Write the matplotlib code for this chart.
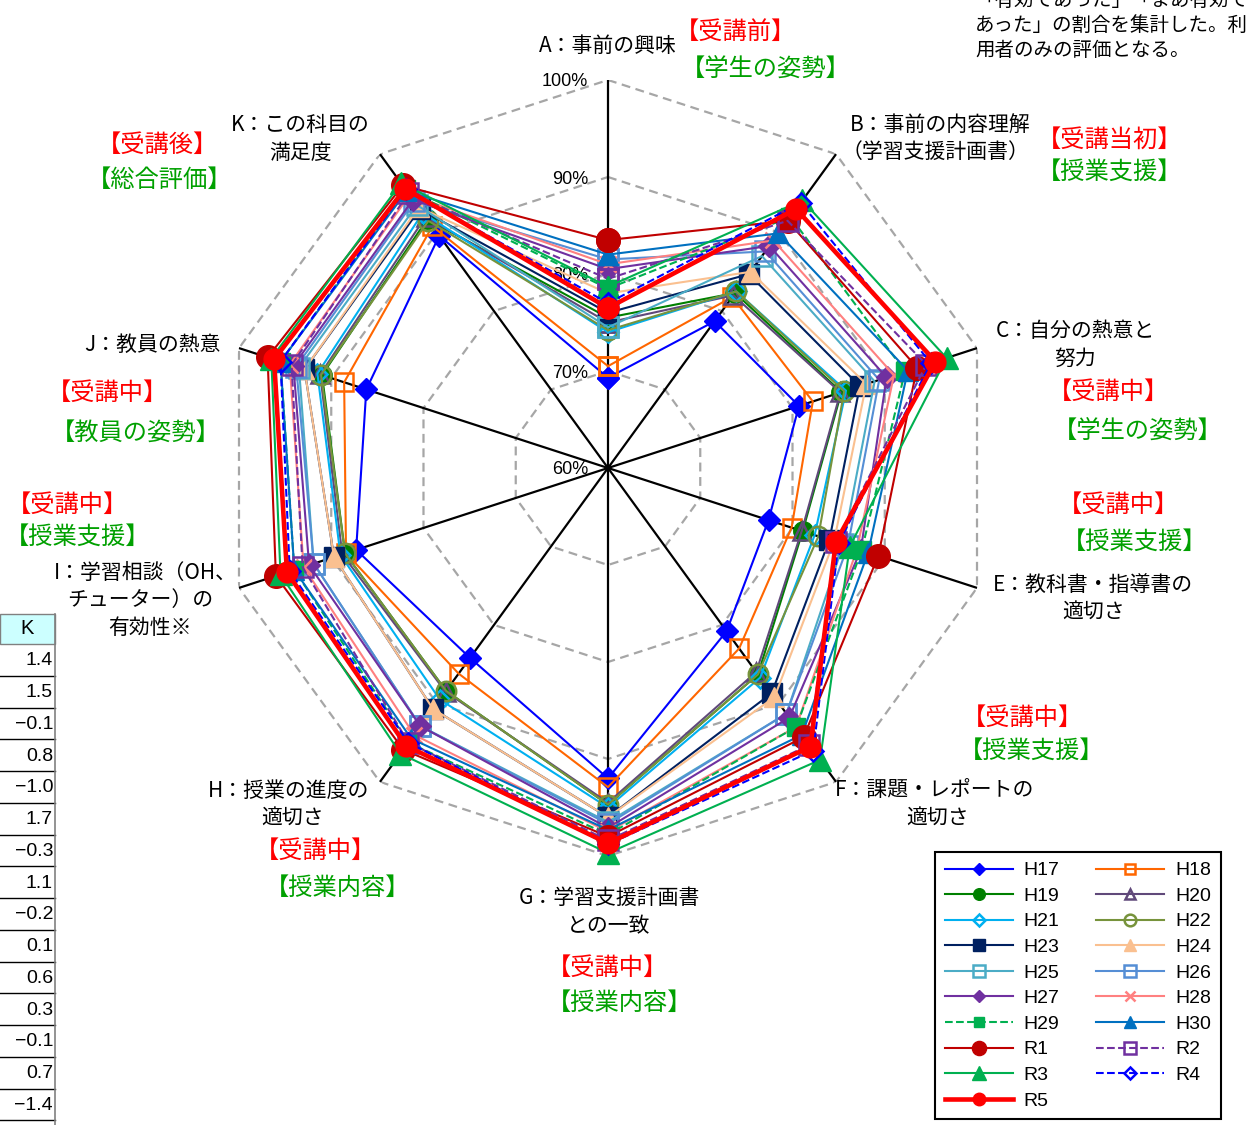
import numpy as np
import matplotlib.pyplot as plt
import matplotlib.transforms as mtransforms
from matplotlib.patches import Rectangle
from matplotlib.lines import Line2D

plt.rcParams['font.family'] = ['Noto Sans CJK JP', 'DejaVu Sans']

W, H = 1248, 1125

# radar axes (D is not used in this survey)
axis_ids = ['A', 'B', 'C', 'E', 'F', 'G', 'H', 'I', 'J', 'K']
axis_deg = [0, 36, 72, 108, 144, 180, 216, 252, 288, 324]

# share of "effective" + "somewhat effective" (%), per axis A..K
h17 = [69.3, 78.7, 80.7, 77.4, 80.8, 92.0, 84.2, 87.3, 86.2, 89.6]
h18 = [70.5, 81.8, 82.2, 79.9, 83.0, 92.9, 86.2, 88.4, 88.6, 90.8]
h19 = [75.5, 82.3, 85.3, 81.1, 86.3, 94.7, 88.4, 88.5, 91.0, 91.7]
h20 = [75.0, 82.0, 85.2, 81.0, 86.0, 94.5, 88.5, 88.8, 91.2, 92.0]
h21 = [74.0, 82.5, 85.8, 82.4, 86.7, 95.0, 89.5, 89.0, 91.5, 92.5]
h22 = [74.2, 82.5, 85.6, 82.8, 86.3, 94.7, 88.4, 88.5, 91.1, 91.5]
h23 = [76.0, 84.7, 87.3, 84.0, 88.7, 96.0, 90.7, 89.7, 92.9, 93.0]
h24 = [78.0, 85.0, 88.0, 84.5, 89.2, 96.0, 90.7, 89.7, 92.9, 93.2]
h25 = [74.5, 87.0, 88.9, 85.5, 91.3, 96.5, 92.9, 91.9, 93.5, 93.5]
h26 = [81.5, 87.6, 89.4, 86.0, 91.3, 96.7, 92.9, 91.9, 93.8, 94.0]
h27 = [80.5, 88.3, 90.2, 87.4, 91.8, 97.1, 92.9, 92.4, 94.1, 94.2]
h28 = [81.0, 89.0, 91.0, 87.0, 93.0, 97.5, 94.0, 93.0, 94.5, 94.8]
h29 = [78.5, 92.0, 92.2, 87.5, 93.0, 97.8, 95.0, 94.0, 95.5, 95.5]
h30 = [82.0, 89.9, 92.5, 88.2, 94.0, 97.3, 94.5, 94.0, 95.5, 95.3]
r1 = [83.5, 91.5, 93.5, 89.3, 94.3, 98.0, 95.9, 96.0, 96.9, 96.0]
r2 = [79.5, 91.5, 94.5, 84.7, 95.3, 98.4, 95.0, 93.1, 94.3, 95.0]
r3 = [78.7, 94.1, 96.7, 86.2, 97.2, 99.7, 96.4, 95.5, 96.5, 96.3]
r4 = [77.0, 93.8, 95.0, 85.0, 96.0, 98.8, 95.0, 94.5, 95.5, 95.5]
r5 = [76.5, 93.0, 95.5, 84.7, 95.5, 98.7, 95.4, 94.8, 96.2, 95.6]

years = ['H17', 'H18', 'H19', 'H20', 'H21', 'H22', 'H23', 'H24', 'H25', 'H26',
         'H27', 'H28', 'H29', 'H30', 'R1', 'R2', 'R3', 'R4', 'R5']
values = [h17, h18, h19, h20, h21, h22, h23, h24, h25, h26,
          h27, h28, h29, h30, r1, r2, r3, r4, r5]

# colour, marker, filled, linestyle, linewidth, markersize
styles = {
    'H17': ('#0000FF', 'D', True, '-', 1.5, 11),
    'H18': ('#FF6600', 's', False, '-', 1.5, 13),
    'H19': ('#008000', 'o', True, '-', 1.5, 14),
    'H20': ('#60497A', '^', False, '-', 1.5, 13),
    'H21': ('#00B0F0', 'D', False, '-', 1.5, 10),
    'H22': ('#77933C', 'o', False, '-', 1.5, 14),
    'H23': ('#002060', 's', True, '-', 1.5, 15),
    'H24': ('#FAC090', '^', True, '-', 1.5, 15),
    'H25': ('#4BACC6', 's', False, '-', 1.5, 14),
    'H26': ('#558ED5', 's', False, '-', 1.5, 14),
    'H27': ('#7030A0', 'D', True, '-', 1.5, 11),
    'H28': ('#FF8080', 'x', False, '-', 1.5, 12),
    'H29': ('#00B050', 's', True, '--', 1.5, 13),
    'H30': ('#0070C0', '^', True, '-', 1.5, 15),
    'R1': ('#C00000', 'o', True, '-', 1.5, 17),
    'R2': ('#7030A0', 's', False, '--', 1.5, 14),
    'R3': ('#00B050', '^', True, '-', 1.5, 16),
    'R4': ('#0000FF', 'D', False, '--', 1.5, 10),
    'R5': ('#FF0000', 'o', True, '-', 3.3, 15),
}

table_vals = ['1.4', '1.5', '−0.1', '0.8', '−1.0', '1.7', '−0.3', '1.1',
              '−0.2', '0.1', '0.6', '0.3', '−0.1', '0.7', '−1.4']

red = '#FF0000'
green = '#00A000'


def fx(x):
    return x / W


def fy(y):
    return 1 - y / H


fig = plt.figure(figsize=(W / 100, H / 100), dpi=100)

cx, cy, rad = 608, 468, 388
ax = fig.add_axes([fx(cx - rad), fy(cy + rad), 2 * rad / W, 2 * rad / H],
                  projection='polar')
ax.set_theta_zero_location('N')
ax.set_theta_direction(-1)
ax.set_ylim(60, 100)
ax.set_xticks([])
ax.set_yticks([])
ax.grid(False)
ax.spines['polar'].set_visible(False)

theta = np.radians(axis_deg)
theta_closed = np.append(theta, theta[0])

# decagon gridlines and spokes
for g in [70, 80, 90, 100]:
    ax.plot(theta_closed, [g] * len(theta_closed), color='#A6A6A6', lw=1.6,
            ls=(0, (4, 2.5)), zorder=1)
for t in theta:
    ax.plot([t, t], [60, 100], color='black', lw=1.6, zorder=1.5)

shift = mtransforms.offset_copy(ax.transData, fig=fig, x=-20, y=-2, units='dots')
for g in [60, 70, 80, 90, 100]:
    ax.text(0, g, f'{g}%', transform=shift, ha='right', va='center',
            fontsize=13, family='Liberation Sans', zorder=2)

lines = {}
for name, vals in zip(years, values):
    col, mk, filled, ls, lw, ms = styles[name]
    ln, = ax.plot(theta_closed, np.append(vals, vals[0]), color=col, lw=lw, ls=ls,
                  marker=mk, ms=ms, mec=col, mew=1.8 if not filled else 1,
                  mfc=col if filled else 'none', zorder=3, clip_on=False,
                  label=name)
    lines[name] = ln

# legend filled row by row: odd years left, even years right
left_col = years[0::2]
right_col = years[1::2]
order = left_col + right_col
leg = fig.legend([lines[n] for n in order], order, ncol=2, loc='upper left',
                 bbox_to_anchor=(fx(935), fy(852)), borderaxespad=0,
                 frameon=True, fancybox=False, edgecolor='black', framealpha=1,
                 prop={'family': 'Liberation Sans', 'size': 14},
                 handlelength=3.5, handletextpad=0.55, markerscale=0.6,
                 labelspacing=0.41, columnspacing=1.9, borderpad=0.5)
leg.get_frame().set_linewidth(1.5)

# axis labels
black_labels = [
    ('A：事前の興味', 608, 46),
    ('B：事前の内容理解', 940, 125), ('（学習支援計画書）', 935, 152),
    ('C：自分の熱意と', 1075, 331), ('努力', 1075, 359),
    ('E：教科書・指導書の', 1093, 586), ('適切さ', 1094, 613),
    ('F：課題・レポートの', 935, 790), ('適切さ', 938, 819),
    ('G：学習支援計画書', 609, 898), ('との一致', 609, 926),
    ('H：授業の進度の', 289, 791), ('適切さ', 293, 819),
    ('I：学習相談（OH、', 145, 573), ('チューター）の', 140, 600), ('有効性※', 150, 628),
    ('J：教員の熱意', 152, 345),
    ('K：この科目の', 300, 125), ('満足度', 301, 153),
]
for txt, x, y in black_labels:
    fig.text(fx(x), fy(y), txt, ha='center', va='center', fontsize=15, color='black')

tags = [
    ('【受講前】', 735, 32, red), ('【学生の姿勢】', 766, 69, green),
    ('【受講当初】', 1110, 140, red), ('【授業支援】', 1110, 172, green),
    ('【受講中】', 1108, 392, red), ('【学生の姿勢】', 1138, 431, green),
    ('【受講中】', 1118, 505, red), ('【授業支援】', 1135, 542, green),
    ('【受講中】', 1022, 718, red), ('【授業支援】', 1032, 751, green),
    ('【受講中】', 315, 851, red), ('【授業内容】', 338, 888, green),
    ('【受講中】', 607, 968, red), ('【授業内容】', 620, 1003, green),
    ('【受講中】', 107, 393, red), ('【教員の姿勢】', 136, 433, green),
    ('【受講中】', 67, 505, red), ('【授業支援】', 78, 537, green),
    ('【受講後】', 157, 145, red), ('【総合評価】', 160, 180, green),
]
for txt, x, y, col in tags:
    fig.text(fx(x), fy(y), txt, ha='center', va='center', fontsize=17.5, color=col)

# note in the top right corner
note = ['「有効であった」「まあ有効で', 'あった」の割合を集計した。利', '用者のみの評価となる。']
for i, line in enumerate(note):
    fig.text(fx(975), fy(0 + 25 * i), line, ha='left', va='center', fontsize=14)

# score column on the left edge
row_top, row_h, col_w = 644, 31.75, 55
fig.patches.append(Rectangle((0, fy(row_top)), fx(col_w), row_top / H - 614 / H,
                             transform=fig.transFigure, facecolor='#CCFFFF',
                             edgecolor='#808080', lw=1))
fig.text(fx(27), fy(629), 'K', ha='center', va='center', fontsize=14.5,
         family='Liberation Sans')
for i, v in enumerate(table_vals):
    y0 = row_top + i * row_h
    fig.text(fx(53), fy(y0 + row_h / 2 + 1), v, ha='right', va='center',
             fontsize=14, family='Liberation Sans')
    fig.add_artist(Line2D([0, fx(col_w)], [fy(y0 + row_h)] * 2, color='black', lw=1))
fig.add_artist(Line2D([fx(col_w)] * 2, [fy(614), 0], color='#808080', lw=1.2))

fig.savefig('out.png', dpi=100, facecolor='white')
